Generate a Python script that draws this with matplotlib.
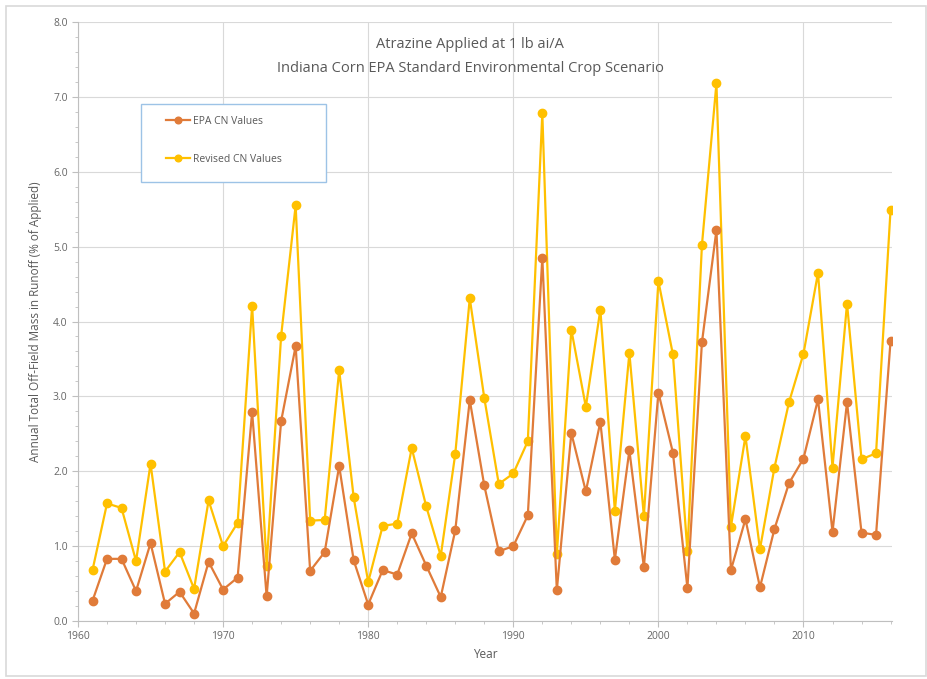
import numpy as np
import matplotlib
matplotlib.use("Agg")
import matplotlib.pyplot as plt
from matplotlib.ticker import MultipleLocator, FormatStrFormatter
from matplotlib.patches import Rectangle

plt.rcParams['font.family'] = ['Open Sans', 'DejaVu Sans']

years = list(range(1961, 2017))
epa_cn = [0.27, 0.83, 0.83, 0.40, 1.04, 0.23, 0.39, 0.10, 0.79, 0.42,
          0.58, 2.79, 0.33, 2.67, 3.67, 0.67, 0.92, 2.07, 0.81, 0.22,
          0.68, 0.62, 1.17, 0.74, 0.32, 1.21, 2.95, 1.81, 0.93, 1.00,
          1.41, 4.85, 0.41, 2.51, 1.73, 2.66, 0.82, 2.28, 0.72, 3.05,
          2.25, 0.44, 3.72, 5.22, 0.68, 1.36, 0.45, 1.23, 1.84, 2.17,
          2.96, 1.19, 2.92, 1.18, 1.15, 3.74]
revised_cn = [0.68, 1.57, 1.51, 0.80, 2.10, 0.66, 0.92, 0.43, 1.61, 1.00,
              1.31, 4.21, 0.74, 3.81, 5.55, 1.34, 1.35, 3.35, 1.65, 0.52,
              1.27, 1.30, 2.31, 1.53, 0.87, 2.23, 4.31, 2.98, 1.83, 1.97,
              2.40, 6.78, 0.89, 3.89, 2.86, 4.16, 1.47, 3.58, 1.40, 4.54,
              3.56, 0.93, 5.02, 7.18, 1.26, 2.47, 0.96, 2.05, 2.92, 3.57,
              4.65, 2.05, 4.24, 2.16, 2.24, 5.49]

W, H = 928, 679
fig = plt.figure(figsize=(W / 100, H / 100), dpi=100)
# outer chart frame
fig.patches.append(Rectangle((6 / W, 3 / H), (W - 8) / W, (H - 9) / H,
                             transform=fig.transFigure, fill=False,
                             edgecolor='#d9d9d9', linewidth=1.2))

l, r, b, t = 78, 892, 621, 22
ax = fig.add_axes([l / W, 1 - b / H, (r - l) / W, (b - t) / H])

txt = '#595959'
ax.plot(years, epa_cn, color='#E07B39', lw=1.6, marker='o', ms=6,
        label='EPA CN Values', zorder=3)
ax.plot(years, revised_cn, color='#FFC000', lw=1.6, marker='o', ms=6,
        label='Revised CN Values', zorder=2)

ax.set_xlim(1960, 2016.1)
ax.set_ylim(0, 8)
ax.xaxis.set_major_locator(MultipleLocator(10))
ax.xaxis.set_minor_locator(MultipleLocator(2))
ax.yaxis.set_major_locator(MultipleLocator(1))
ax.yaxis.set_minor_locator(MultipleLocator(0.2))
ax.yaxis.set_major_formatter(FormatStrFormatter('%.1f'))
ax.grid(True, which='major', color='#d9d9d9', lw=0.8)
ax.set_axisbelow(True)
for s in ['top', 'right']:
    ax.spines[s].set_visible(False)
for s in ['left', 'bottom']:
    ax.spines[s].set_color('#bfbfbf')
ax.tick_params(which='both', colors='#bfbfbf', labelcolor='#666666',
               labelsize=7.5)
ax.tick_params(which='major', length=4)
ax.tick_params(which='minor', length=2.5)

ax.set_xlabel('Year', color=txt, fontsize=8.5, labelpad=4)
ax.set_ylabel('Annual Total Off-Field Mass in Runoff (% of Applied)',
              color=txt, fontsize=8.5, labelpad=8)

fig.text(470 / W, 1 - 44 / H, 'Atrazine Applied at 1 lb ai/A', ha='center',
         va='center', fontsize=10.5, color=txt)
fig.text(470 / W, 1 - 68 / H,
         'Indiana Corn EPA Standard Environmental Crop Scenario',
         ha='center', va='center', fontsize=10.5, color=txt)

# legend box drawn as in the reference (white fill hides grid)
box = Rectangle((141 / W, 1 - 182 / H), 185 / W, 78 / H,
                transform=fig.transFigure, facecolor='white',
                edgecolor='#9dc3e6', linewidth=1.0, zorder=4)
ax.add_artist(box)
leg = ax.legend(loc='upper left', bbox_to_anchor=(166 / W, 1 - 116 / H),
                bbox_transform=fig.transFigure, fontsize=7.5, frameon=False,
                handlelength=2.3, labelspacing=2.6, borderpad=0,
                borderaxespad=0, handletextpad=0.3, markerscale=0.8)
leg.set_zorder(5)
for tx in leg.get_texts():
    tx.set_color(txt)

fig.savefig('out.png', dpi=100)
